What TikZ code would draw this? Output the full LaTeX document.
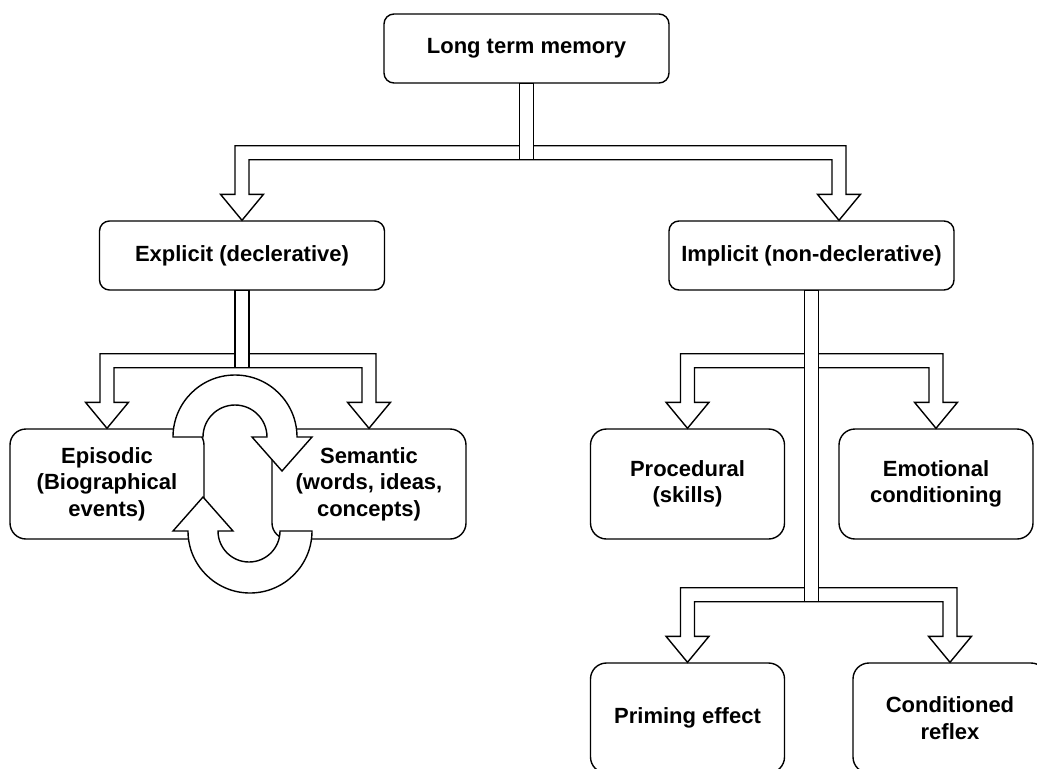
\documentclass[tikz,border=0pt]{standalone}
\usepackage{fontspec}
\setmainfont{Liberation Sans}
\usepackage{tikz}
\usetikzlibrary{calc}
\tikzstyle{membox}=[rectangle,rounded corners=10pt,draw=black,line width=1.4pt,
  minimum width=285pt,minimum height=69pt,inner sep=0pt,align=center,
  font=\bfseries\fontsize{22}{26.5}\selectfont]
\tikzstyle{subbox}=[membox,rounded corners=16pt,minimum width=194pt,minimum height=110pt]
\tikzstyle{blockarrow}=[draw=black,fill=white,line width=1.4pt,line join=miter]
% #1 stem top, #2 left tip, #3 right tip, #4 drop from stem top to bar
\newcommand{\forkarrow}[4]{
  \draw [style=blockarrow] let \p1=#1, \p2=#2, \p3=#3 in
    (\x2-7pt,\y1-#4pt) -- (\x3+7pt,\y1-#4pt) -- (\x3+7pt,\y3+26pt)
    -- (\x3+21.5pt,\y3+26pt) -- (\x3,\y3) -- (\x3-21.5pt,\y3+26pt)
    -- (\x3-7pt,\y3+26pt) -- (\x3-7pt,\y1-#4pt-14pt) -- (\x2+7pt,\y1-#4pt-14pt)
    -- (\x2+7pt,\y2+26pt) -- (\x2+21.5pt,\y2+26pt) -- (\x2,\y2)
    -- (\x2-21.5pt,\y2+26pt) -- (\x2-7pt,\y2+26pt) -- cycle;
  \draw [style=blockarrow] let \p1=#1 in
    (\x1-7pt,\y1) rectangle (\x1+7pt,\y1-#4pt-14pt);
}

\begin{document}
\begin{tikzpicture}[x=1pt,y=1pt]
    \useasboundingbox (0,0) rectangle (1037,-769);
    \node [style=membox] (ltm) at (526.5,-48.5) {Long term memory};
    \node [style=membox] (expl) at (242,-255.5) {Explicit (declerative)};
    \node [style=membox] (impl) at (811.5,-255.5) {Implicit (non-declerative)};
    \node [style=subbox] (epis) at (107,-484) {Episodic\\(Biographical\\events)};
    \node [style=subbox] (sema) at (369,-484) {Semantic\\(words, ideas,\\concepts)};
    \node [style=subbox] (proc) at (687.5,-484) {Procedural\\(skills)};
    \node [style=subbox] (emot) at (936,-484) {Emotional\\conditioning};
    \node [style=subbox] (prim) at (687.5,-718) {Priming effect};
    \node [style=subbox] (cond) at (950,-718) {Conditioned\\reflex};
    \forkarrow{(ltm.south)}{(expl.north)}{([xshift=27.5pt]impl.north)}{62}
    \forkarrow{(expl.south)}{(epis.north)}{(sema.north)}{63}
    \forkarrow{(impl.south)}{(proc.north)}{(emot.north)}{63}
    \forkarrow{(impl.south)}{(prim.north)}{(cond.north)}{297}
    \draw [style=blockarrow] (173,-437) arc[start angle=180,end angle=0,radius=62]
      -- (312,-437) -- (282,-471) -- (252,-437) -- (267,-437)
      arc[start angle=0,end angle=180,radius=32] -- cycle;
    \draw [style=blockarrow] (312,-531) arc[start angle=0,end angle=-180,radius=62]
      -- (173,-531) -- (203,-497) -- (233,-531) -- (218,-531)
      arc[start angle=180,end angle=360,radius=31] -- cycle;
\end{tikzpicture}
\end{document}
